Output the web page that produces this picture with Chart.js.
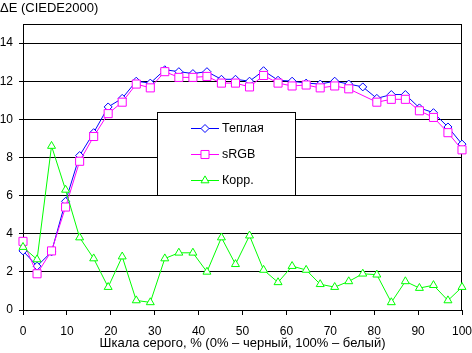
<!DOCTYPE html>
<html>
<head>
<meta charset="utf-8">
<script src="https://cdn.jsdelivr.net/npm/chart.js@4/dist/chart.umd.min.js"></script>
<style>
  html, body { margin: 0; padding: 0; background: #fff; }
  #wrap { width: 472px; height: 353px; }
</style>
</head>
<body>
<div id="wrap"><canvas id="deltaChart" width="472" height="353"></canvas></div>
<script>
// --- données ---
const grayLevels = [0, 3.2, 6.5, 9.7, 12.9, 16.1, 19.4, 22.6, 25.8, 29.0, 32.3, 35.5, 38.7, 41.9, 45.2, 48.4,
                    51.6, 54.8, 58.1, 61.3, 64.5, 67.7, 71.0, 74.2, 77.4, 80.6, 83.9, 87.1, 90.3, 93.5, 96.8, 100];
const warmValues = [3.1, 2.3, 3.05, 5.7, 8.1, 9.3, 10.65, 11.1, 12.0, 11.9, 12.6, 12.5, 12.4, 12.5, 12.1, 12.1,
                    12.0, 12.55, 12.05, 12.0, 11.9, 11.85, 12.0, 11.85, 11.7, 11.1, 11.3, 11.3, 10.6, 10.35, 9.6, 8.7];
const srgbValues = [3.6, 1.9, 3.1, 5.4, 7.8, 9.1, 10.3, 10.9, 11.85, 11.65, 12.5, 12.2, 12.2, 12.25, 11.9, 11.9,
                    11.7, 12.3, 11.9, 11.75, 11.8, 11.65, 11.75, 11.6, null, 10.9, 11.05, 11.05, 10.45, 10.1, 9.3, 8.4];
const corrValues = [3.3, 2.65, 8.6, 6.3, 3.8, 2.7, 1.2, 2.8, 0.5, 0.4, 2.7, 3.0, 3.0, 2.0, 3.8, 2.4,
                    3.9, 2.1, 1.45, 2.3, 2.1, 1.35, 1.2, 1.5, 1.9, 1.85, 0.4, 1.5, 1.15, 1.3, 0.5, 1.2];
const seriesNames = ['Теплая', 'sRGB', 'Корр.'];
const yTicks = [0, 2, 4, 6, 8, 10, 12, 14];
const xTicks = [0, 10, 20, 30, 40, 50, 60, 70, 80, 90, 100];

const toPoints = vals => grayLevels.map((x, i) => ({ x: x, y: vals[i] }));

Chart.defaults.font.family = '"Liberation Sans", Arial, sans-serif';
Chart.defaults.font.size = 12;
Chart.defaults.color = '#000000';

// cadre + titre + légende dessinés à la main
const cadrePlugin = {
    id: 'cadre',
    beforeDatasetsDraw(chart) {
        const { ctx, chartArea: a } = chart;
        ctx.save();
        ctx.strokeStyle = '#000';
        ctx.lineWidth = 1;
        ctx.strokeRect(Math.round(a.left) + 0.5, Math.round(a.top) + 0.5,
                       Math.round(a.right - a.left) - 1, Math.round(a.bottom - a.top));
        ctx.restore();
    },
    afterDraw(chart) {
        const ctx = chart.ctx;
        ctx.save();
        ctx.fillStyle = '#000';
        ctx.font = '13px "Liberation Sans", Arial, sans-serif';
        ctx.textBaseline = 'middle';
        ctx.textAlign = 'left';
        ctx.fillText('ΔE (CIEDE2000)', 0, 8);

        // légende
        ctx.font = '12.5px "Liberation Sans", Arial, sans-serif';
        const bx = 157.5, by = 112.5, bw = 138, bh = 83;
        ctx.fillStyle = '#fff';
        ctx.fillRect(bx, by, bw, bh);
        ctx.strokeStyle = '#000';
        ctx.strokeRect(bx, by, bw, bh);
        chart.data.datasets.forEach((ds, i) => {
            const y = 128.5 + i * 26;
            ctx.strokeStyle = ds.borderColor;
            ctx.lineWidth = 1;
            ctx.beginPath();
            ctx.moveTo(191, y);
            ctx.lineTo(219, y);
            ctx.stroke();
            drawMarker(ctx, ds.pointStyle, 205, y, ds.pointRadius, ds.borderColor);
            ctx.fillStyle = '#000';
            ctx.fillText(ds.label, 222, y);
        });
        ctx.restore();
    }
};

function drawMarker(ctx, style, x, y, r, color) {
    ctx.beginPath();
    if (style === 'rectRot') {
        ctx.moveTo(x, y - r); ctx.lineTo(x + r, y); ctx.lineTo(x, y + r); ctx.lineTo(x - r, y);
    } else if (style === 'rect') {
        const s = r * Math.SQRT1_2;
        ctx.rect(x - s, y - s, 2 * s, 2 * s);
    } else {
        ctx.moveTo(x, y - r); ctx.lineTo(x + r * 0.866, y + r / 2); ctx.lineTo(x - r * 0.866, y + r / 2);
    }
    ctx.closePath();
    ctx.fillStyle = '#fff';
    ctx.fill();
    ctx.strokeStyle = color;
    ctx.stroke();
}

const noPad = axis => {
    axis.paddingLeft = 0;
    axis.paddingRight = 0;
    axis.paddingTop = 0;
    axis.paddingBottom = 0;
};

const ctxDelta = document.getElementById('deltaChart').getContext('2d');
const deltaChart = new Chart(ctxDelta, {
    type: 'line',
    data: {
        datasets: [
            {
                label: seriesNames[0],
                data: toPoints(warmValues),
                borderColor: '#0000ff',
                borderWidth: 1,
                pointStyle: 'rectRot',
                pointRadius: 4,
                pointBackgroundColor: '#ffffff',
                pointBorderColor: '#0000ff',
                pointBorderWidth: 1,
                clip: false,
                order: 3
            },
            {
                label: seriesNames[1],
                data: toPoints(srgbValues),
                borderColor: '#ff00ff',
                borderWidth: 1,
                pointStyle: 'rect',
                pointRadius: 5.7,
                pointBackgroundColor: '#ffffff',
                pointBorderColor: '#ff00ff',
                pointBorderWidth: 1,
                spanGaps: true,
                clip: false,
                order: 2
            },
            {
                label: seriesNames[2],
                data: toPoints(corrValues),
                borderColor: '#00ff00',
                borderWidth: 1,
                pointStyle: 'triangle',
                pointRadius: 4.6,
                pointBackgroundColor: '#ffffff',
                pointBorderColor: '#00ff00',
                pointBorderWidth: 1,
                clip: false,
                order: 1
            }
        ]
    },
    options: {
        responsive: false,
        animation: false,
        devicePixelRatio: 1,
        layout: { padding: { left: 0, right: 10, top: 24, bottom: 0 } },
        elements: { line: { tension: 0 } },
        scales: {
            x: {
                type: 'linear',
                min: 0,
                max: 100,
                afterBuildTicks: axis => { axis.ticks = xTicks.map(v => ({ value: v })); },
                afterFit: axis => { axis.height = 43; noPad(axis); },
                ticks: { padding: 9, maxRotation: 0, color: '#000' },
                grid: { drawOnChartArea: false, drawTicks: true, tickLength: 5, color: '#000' },
                border: { color: '#000' },
                title: {
                    display: true,
                    text: 'Шкала серого, % (0% – черный, 100% – белый)',
                    color: '#000',
                    font: { size: 13 },
                    padding: { top: 0, bottom: 2 }
                }
            },
            y: {
                min: 0,
                max: 15,
                afterBuildTicks: axis => { axis.ticks = yTicks.map(v => ({ value: v })); },
                afterFit: axis => { axis.width = 23; noPad(axis); },
                ticks: { padding: 6, color: '#000' },
                grid: { color: '#000', tickLength: 4 },
                border: { color: '#000' }
            }
        },
        plugins: {
            legend: { display: false },
            tooltip: { enabled: false }
        }
    },
    plugins: [cadrePlugin]
});
</script>
</body>
</html>
